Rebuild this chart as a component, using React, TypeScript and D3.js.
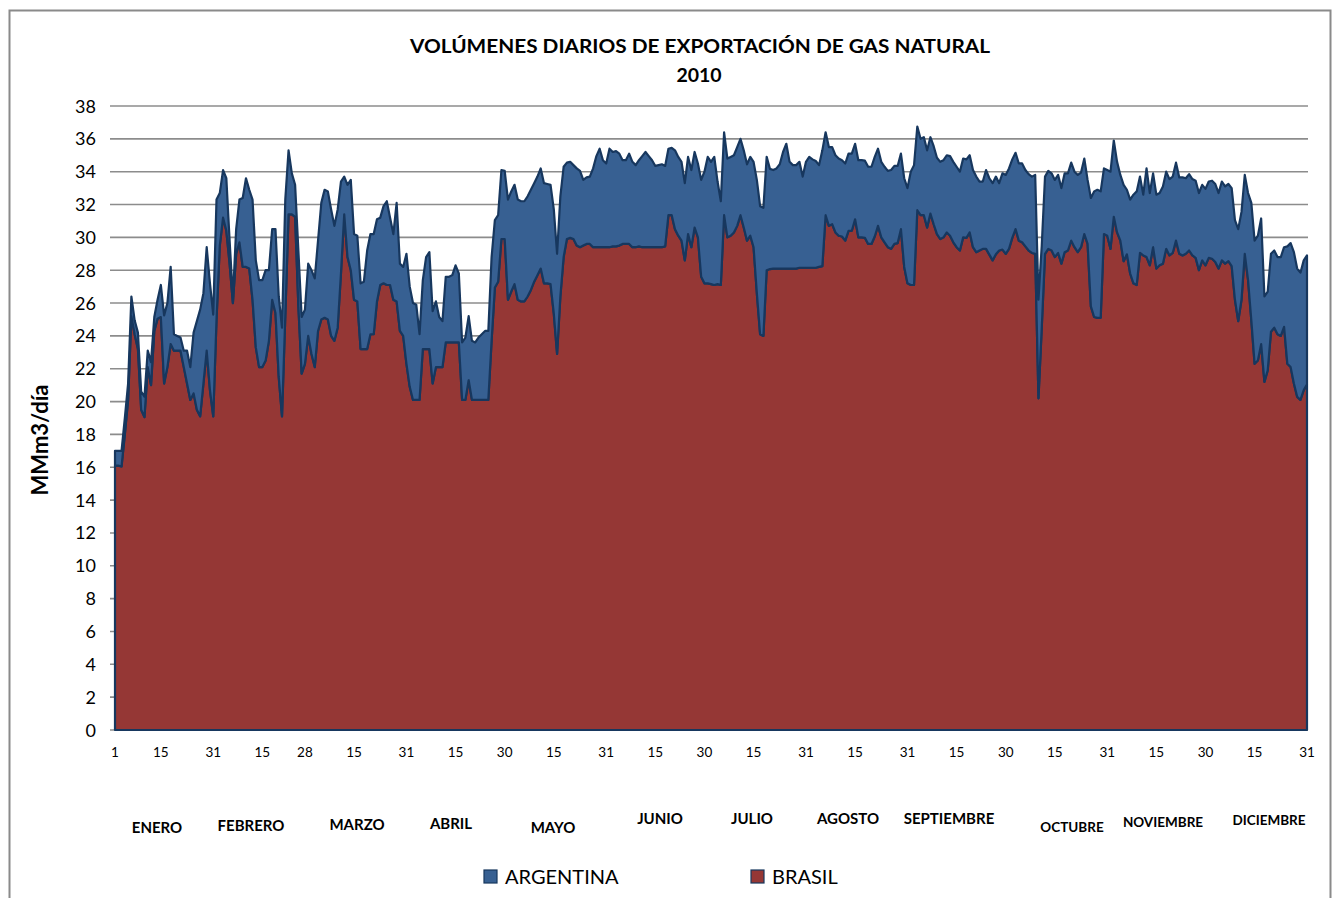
import React from "react";
import * as d3 from "d3";

// Daily exports 2010, MMm3/día — one line per month
const BRASIL: number[] = [
  16.1,16.1,16.05,18.0,20.1,25.2,24.1,23.2,19.5,19.05,22.1,21.0,24.3,25.05,25.15,21.1,22.1,23.5,23.1,23.1,23.1,22.1,21.1,20.1,20.5,19.5,19.1,21.1,23.1,20.7,19.1,
  25.0,29.5,31.2,30.4,28.4,26.0,29.0,29.7,28.2,28.2,28.1,26.2,23.3,22.1,22.1,22.5,23.7,26.2,25.4,21.5,19.1,25.2,31.4,31.4,31.25,25.8,21.7,22.3,
  24.0,22.9,22.1,24.3,25.0,25.1,25.0,24.0,23.7,24.5,27.8,31.4,28.8,28.0,26.2,26.1,23.2,23.2,23.2,24.1,24.1,26.1,27.1,27.2,27.1,27.1,26.2,26.1,24.3,24.0,22.3,
  20.9,20.1,20.1,20.1,23.2,23.2,23.2,21.1,22.1,22.1,22.1,23.6,23.6,23.6,23.6,23.6,20.1,20.1,21.3,20.1,20.1,20.1,20.1,20.1,20.1,23.7,26.95,27.3,29.9,29.9,
  26.2,26.7,27.15,26.2,26.1,26.1,26.4,26.8,27.3,27.7,28.1,27.2,27.2,27.15,25.35,22.9,26.4,28.8,29.9,29.97,29.9,29.5,29.4,29.5,29.6,29.6,29.4,29.4,29.4,29.4,29.4,
  29.4,29.45,29.45,29.5,29.6,29.6,29.6,29.4,29.4,29.45,29.4,29.4,29.4,29.4,29.4,29.4,29.4,29.45,31.35,31.35,30.5,30.1,29.8,28.6,30.2,29.4,30.6,30.0,27.6,27.2,
  27.2,27.15,27.1,27.15,27.1,31.35,30.0,30.1,30.3,30.7,31.35,30.6,29.8,30.1,29.4,26.6,24.1,24.0,28.0,28.07,28.1,28.1,28.1,28.1,28.1,28.1,28.1,28.1,28.15,28.15,28.15,
  28.15,28.15,28.15,28.2,28.25,31.35,30.7,30.8,30.3,30.1,30.05,29.8,30.4,30.4,31.1,30.0,30.0,29.97,29.6,29.6,30.05,30.7,30.0,29.7,29.4,29.3,29.6,29.65,30.5,28.2,27.2,
  27.1,27.1,31.65,31.35,31.35,30.6,31.45,30.8,30.2,29.9,30.0,30.3,30.1,29.7,29.4,29.2,30.0,29.97,30.3,29.4,29.1,29.2,29.3,29.3,28.95,28.6,28.97,29.2,29.25,29.0,
  29.3,29.97,30.5,29.8,29.7,29.45,29.2,29.05,29.0,20.2,24.5,29.0,29.3,29.2,28.8,29.05,28.4,29.1,29.2,29.8,29.4,29.1,29.4,30.2,29.6,25.8,25.15,25.1,25.1,30.2,30.1,
  29.3,31.25,30.3,29.8,28.55,28.97,27.8,27.2,27.1,29.05,28.9,28.8,28.3,29.4,28.1,28.3,28.4,29.3,28.9,29.05,29.8,29.0,28.9,29.0,29.2,28.9,28.75,28.0,28.6,28.3,
  28.75,28.7,28.5,28.1,28.6,28.4,28.55,28.25,26.2,24.9,26.2,29.0,27.4,24.95,22.3,22.5,23.5,21.2,21.9,24.25,24.5,24.1,24.0,24.55,22.3,22.1,21.1,20.3,20.1,20.7,21.05,
];

const ARGENTINA: number[] = [
  0.9,0.9,0.95,1.0,1.0,1.2,0.85,1.0,1.1,1.25,1.0,1.4,0.85,1.15,1.95,4.15,3.9,4.7,1.0,0.9,0.8,1.0,2.0,2.0,3.7,5.4,6.5,5.5,6.3,6.5,6.2,
  7.3,3.2,2.9,3.2,1.4,0.3,1.5,2.6,4.2,5.4,4.8,6.1,5.3,5.3,5.3,5.5,4.3,4.3,5.1,4.9,5.4,7.1,3.9,2.5,1.95,3.4,3.45,3.3,
  4.4,5.1,5.4,5.5,7.1,7.8,7.8,7.7,7.0,7.2,5.6,2.3,4.4,5.5,4.0,4.0,4.0,4.1,6.0,6.1,6.1,5.0,4.1,4.7,5.1,4.1,4.0,6.0,4.1,4.2,6.7,
  6.1,5.9,5.8,4.0,4.2,5.6,5.9,4.4,4.0,3.05,2.8,4.0,4.0,4.1,4.7,4.2,3.5,3.8,3.9,3.6,3.5,3.8,4.0,4.2,4.2,5.1,4.1,4.05,4.2,4.15,
  6.1,6.1,6.05,6.1,6.1,6.1,6.1,6.1,6.0,6.0,6.1,6.1,6.05,6.05,6.35,6.1,6.1,5.5,4.65,4.63,4.5,4.7,4.65,4.0,4.05,4.1,4.8,5.55,6.0,5.3,5.1,
  6.0,5.75,5.8,5.6,5.1,5.1,5.5,5.2,5.0,5.25,5.55,5.8,5.55,5.3,4.95,5.0,5.05,4.9,4.05,4.1,4.8,4.8,4.8,4.7,4.7,4.7,4.6,4.5,5.9,6.8,
  7.7,7.45,7.8,6.25,5.1,5.05,4.8,4.8,4.7,4.8,4.65,4.7,4.65,4.8,5.2,6.9,7.8,7.8,6.9,6.1,6.0,6.1,6.35,7.1,7.6,6.5,6.3,6.3,6.45,5.55,6.45,
  6.75,6.6,6.5,6.2,7.05,5.05,4.8,4.7,4.7,4.7,4.65,4.7,4.7,4.7,4.6,4.7,4.7,4.7,4.7,4.7,4.85,4.7,4.6,4.6,4.65,4.8,4.75,4.7,4.6,5.4,5.8,
  6.9,7.3,5.1,4.65,4.75,4.7,4.65,4.75,4.65,4.7,4.7,4.7,4.85,4.9,4.9,4.8,4.8,4.78,4.7,4.7,4.6,4.2,4.1,4.8,4.65,4.7,4.73,4.1,4.65,4.8,
  4.9,4.78,4.65,4.7,4.8,4.65,4.65,4.65,4.8,6.0,5.0,4.7,4.75,4.7,4.7,4.75,4.6,4.8,4.7,4.75,4.6,4.7,4.55,4.6,3.9,6.6,7.65,7.8,7.7,4.0,4.0,
  4.7,4.65,4.3,4.0,4.65,3.93,4.5,5.4,5.7,4.65,3.7,5.4,4.4,4.5,4.5,4.4,4.7,4.7,4.65,4.65,4.75,4.65,4.75,4.6,4.65,4.65,4.7,4.7,4.6,4.65,
  4.65,4.75,4.75,4.6,4.8,4.7,4.7,4.75,4.85,5.6,5.35,4.8,5.3,7.15,7.5,7.6,7.65,5.2,4.8,4.75,4.7,4.7,4.8,4.85,7.15,7.55,8.0,7.8,7.75,7.9,7.85,
];

const TICK_DAYS = [1,15,31,46,59,74,90,105,120,135,151,166,181,196,212,227,243,258,273,288,304,319,334,349,365];
const TICK_LABELS = ["1","15","31","15","28","15","31","15","30","15","31","15","30","15","31","15","31","15","30","15","31","15","30","15","31"];
const MONTHS = ["ENERO","FEBRERO","MARZO","ABRIL","MAYO","JUNIO","JULIO","AGOSTO","SEPTIEMBRE","OCTUBRE","NOVIEMBRE","DICIEMBRE"];
const Y_TICKS = [0,2,4,6,8,10,12,14,16,18,20,22,24,26,28,30,32,34,36,38];
const SERIES_KEYS = ["brasil","argentina"];
const LEGEND = ["ARGENTINA","BRASIL"];

// layout (hand-placed month labels as in the original)
const MONTH_POS: [number, number, number][] = [
  [157,833,15],[251,831,15],[357,830,15],[451,829,15],[553,833,15],[660,824,15],
  [752,824,15],[848,824,15],[949,824,15],[1072,832,13.5],[1163,827,13.5],[1269,825,13.5],
];
const COLORS: Record<string,string> = { brasil: "#953735", argentina: "#376092" };
const OUTLINE = "#17375e";
const FONT = "Lato, 'Open Sans', 'Liberation Sans', sans-serif";

export default function App() {
  const W = 1339, H = 898;
  const x = d3.scaleLinear().domain([1, 365]).range([115, 1307]);
  const y = d3.scaleLinear().domain([0, 38]).range([730, 106]);

  const table = BRASIL.map((b, i) => ({ day: i + 1, brasil: b, argentina: ARGENTINA[i] }));
  const stacked = d3.stack<any>().keys(SERIES_KEYS)(table);
  const area = d3.area<any>()
    .x((d: any) => x(d.data.day))
    .y0((d: any) => y(d[0]))
    .y1((d: any) => y(d[1]));

  return (
    <svg width={W} height={H} style={{ position: "absolute", left: 0, top: 0, background: "#fff" }}
      fontFamily={FONT}>
      <rect x={0} y={0} width={W} height={H} fill="#fff" />
      {/* chart border */}
      <path d={`M9.5,${H + 5} V10.5 H1330.5 V${H + 5}`} fill="none" stroke="#8a8a8a" strokeWidth={2} />

      {/* title */}
      <text x={700} y={53} textAnchor="middle" fontWeight={700} fontSize={19.5}
        textLength={580} lengthAdjust="spacingAndGlyphs">VOLÚMENES DIARIOS DE EXPORTACIÓN DE GAS NATURAL</text>
      <text x={699} y={82} textAnchor="middle" fontWeight={700} fontSize={19.5}>2010</text>

      {/* gridlines */}
      {Y_TICKS.filter(t => t > 0).map(t => (
        <line key={t} x1={110} x2={1308} y1={y(t)} y2={y(t)} stroke="#8c8c8c" strokeWidth={1.6} />
      ))}
      <line x1={110} x2={1308} y1={y(0)} y2={y(0)} stroke="#8c8c8c" strokeWidth={1.6} />

      {/* y tick labels */}
      {Y_TICKS.map(t => (
        <text key={t} x={96} y={y(t) + 6.5} textAnchor="end" fontSize={18} fill="#000">{t}</text>
      ))}
      <text transform={`translate(48,440) rotate(-90)`} textAnchor="middle" fontWeight={700} fontSize={22}>MMm3/día</text>

      {/* stacked areas */}
      {stacked.map(s => (
        <path key={s.key} d={area(s) || ""} fill={COLORS[s.key]} stroke={OUTLINE}
          strokeWidth={2.2} strokeLinejoin="round" />
      ))}

      {/* x tick labels */}
      {TICK_DAYS.map((d, i) => (
        <text key={i} x={x(d)} y={757} textAnchor="middle" fontSize={13.5}>{TICK_LABELS[i]}</text>
      ))}

      {/* month labels */}
      {MONTHS.map((m, i) => (
        <text key={m} x={MONTH_POS[i][0]} y={MONTH_POS[i][1]} textAnchor="middle" fontWeight={700}
          fontSize={MONTH_POS[i][2]}>{m}</text>
      ))}

      {/* legend */}
      {LEGEND.map((name, i) => {
        const lx = i === 0 ? 484 : 751;
        const key = SERIES_KEYS[1 - i];
        return (
          <g key={name}>
            <rect x={lx} y={870} width={13} height={13} fill={COLORS[key]} stroke={OUTLINE} strokeWidth={1.2} />
            <text x={lx + 21} y={884} fontSize={20}>{name}</text>
          </g>
        );
      })}
    </svg>
  );
}
